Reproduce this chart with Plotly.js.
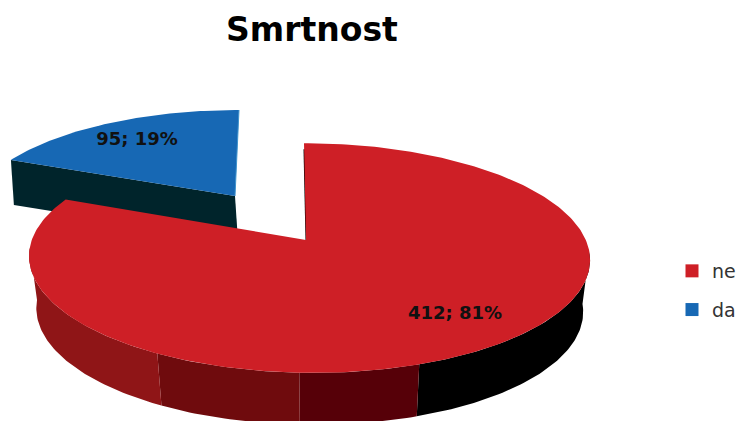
<!DOCTYPE html>
<html>
<head>
<meta charset="utf-8">
<script src="https://cdn.plot.ly/plotly-3.0.1.min.js"></script>
<style>html,body{margin:0;padding:0;background:#fff;overflow:hidden}</style>
</head>
<body>
<div id="chart" style="width:738px;height:421px"></div>
<script>
// Smrtnost - exploded 3D pie, plotly has no 3D pie so the slices are filled scatter traces
const categories = ['ne', 'da'];
const values = [412, 95];
const chartTitle = 'Smrtnost';

const total = values[0] + values[1];
const redSweep = 360 * values[0] / total;
const pct = values.map(v => Math.round(100 * v / total));

// perspective disc, angle is clockwise from the top. The axes run in pixels.
const tilt = 0.157;
const redTop = { ax: 306, ay: 240, cx: 308.8, sh: 4.8, R: 277, S: 112 };
const redBottom = { ax: 306, ay: 292, cx: 309, sh: 4.8, R: 270, S: 112 };
const blueTop = { ax: 235, ay: 196, cx: 235, sh: -4, R: 259, S: 99.5 };
const blueBottom = { ax: 238, ay: 241, cx: 238, sh: -4, R: 259, S: 99.5 };

function rim(p, deg) {
    const t = deg * Math.PI / 180;
    const u = Math.sin(t), v = Math.cos(t);
    const w = 1 + tilt * v;
    return [p.cx - p.sh * v + p.R * u / w, p.ay - p.S * v / w];
}

function arc(p, from, to) {
    const pts = [];
    const n = Math.ceil(Math.abs(to - from));
    for (let i = 0; i <= n; i++) pts.push(rim(p, from + (to - from) * i / n));
    return pts;
}

function poly(pts, color) {
    return {
        x: pts.map(d => d[0]), y: pts.map(d => d[1]),
        type: 'scatter', mode: 'lines', fill: 'toself', fillcolor: color,
        line: { width: 0, color: color }, hoverinfo: 'skip', showlegend: false
    };
}

function edge(a, b, color, width) {
    return {
        x: [a[0], b[0]], y: [a[1], b[1]], type: 'scatter', mode: 'lines',
        line: { color: color, width: width }, hoverinfo: 'skip', showlegend: false
    };
}

function label(x, y, text) {
    return {
        x: [x], y: [y], text: [text], type: 'scatter', mode: 'text',
        textposition: 'middle center', cliponaxis: false,
        textfont: { family: 'DejaVu Sans', size: 18, color: '#111', weight: 'bold' },
        hoverinfo: 'skip', showlegend: false
    };
}

function legendItem(name, color) {
    return {
        x: [null], y: [null], type: 'scatter', mode: 'markers', name: name,
        legendgroup: name,
        marker: { symbol: 'square', size: 13, color: color }
    };
}

// shading of the red side wall, from the right round to the left
const wallStops = [96, 161, 182.5, 209, 266];
const wallColors = ['#000000', '#560008', '#6f0b0d', '#8f1517'];

const red = '#ce1f26';
const blue = '#1768b4';

const traces = [];

// blue slice, pulled out
const bl = rim(blueTop, redSweep), blb = rim(blueBottom, redSweep);
traces.push(poly([[blueTop.ax, blueTop.ay], bl, blb, [blueBottom.ax, blueBottom.ay]], '#00242b'));
traces.push(poly([[blueTop.ax, blueTop.ay]].concat(arc(blueTop, redSweep, 360)), blue));
traces.push(edge([blueTop.ax, blueTop.ay], rim(blueTop, 360), '#3f93cc', 1));

// red slice side wall
wallColors.forEach((c, i) => {
    const a = wallStops[i], b = wallStops[i + 1];
    traces.push(poly(arc(redTop, a, b).concat(arc(redBottom, b, a)), c));
});
const r0 = rim(redTop, 0);
traces.push(edge([r0[0] + 0.5, r0[1] + 6], [redTop.ax + 0.5, redTop.ay], '#000000', 2));

// red top face
traces.push(poly([[redTop.ax, redTop.ay]].concat(arc(redTop, 0, redSweep)), red));

traces.push(label(137, 140, values[1] + '; ' + pct[1] + '%'));
traces.push(label(455, 314, values[0] + '; ' + pct[0] + '%'));

traces.push(legendItem(categories[0], red));
traces.push(legendItem(categories[1], blue));

const layout = {
    width: 738,
    height: 421,
    margin: { l: 0, r: 0, t: 0, b: 0, autoexpand: false },
    paper_bgcolor: '#fff',
    plot_bgcolor: '#fff',
    title: {
        text: chartTitle,
        font: { family: 'DejaVu Sans', size: 33, color: '#000', weight: 'bold' },
        x: 312 / 738, xanchor: 'center', y: 1 - 29 / 421, yanchor: 'middle'
    },
    xaxis: { range: [0, 738], visible: false, fixedrange: true },
    yaxis: { range: [421, 0], visible: false, fixedrange: true },
    showlegend: true,
    legend: {
        x: 672 / 738, xanchor: 'left', y: 1 - 290.5 / 421, yanchor: 'middle',
        font: { family: 'DejaVu Sans', size: 19, color: '#333' },
        bgcolor: 'rgba(0,0,0,0)', tracegroupgap: 11, itemwidth: 30
    }
};

Plotly.newPlot('chart', traces, layout, { displayModeBar: false, responsive: false });
</script>
</body>
</html>
